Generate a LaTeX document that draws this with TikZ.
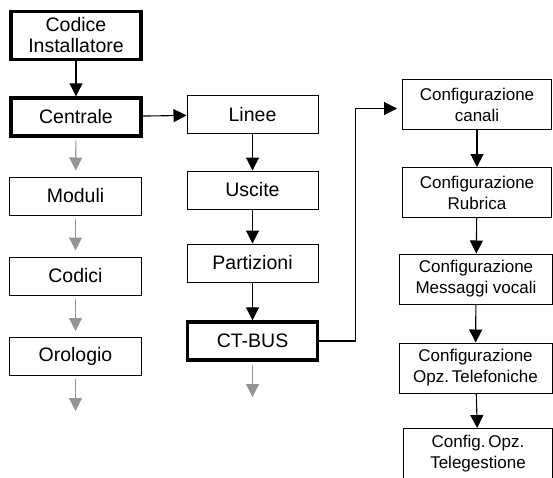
\documentclass[tikz,border=0pt]{standalone}
\usepackage{fontspec}
\setmainfont{Liberation Sans}
\usepackage{tikz}
\usetikzlibrary{arrows.meta}
\tikzset{bx/.style={draw,line width=1pt,minimum width=132pt,minimum height=38pt,align=center,inner sep=1pt,font=\fontsize{19.5}{21}\selectfont}}
\tikzset{tbx/.style={bx,line width=3.4pt,minimum width=130pt}}
\tikzset{cbx/.style={bx,minimum width=149pt,minimum height=50pt,font=\fontsize{17}{21}\selectfont}}
\tikzset{ar/.style={-{Triangle[width=13pt,length=13pt]},line width=1.1pt}}
\tikzset{ga/.style={ar,draw=black!42,shorten <=3pt,shorten >=6pt}}

\begin{document}
\begin{tikzpicture}[x=1pt,y=-1pt]
          \useasboundingbox (0,0) rectangle (553,477);
          % colonna centrale
          \node[tbx,minimum height=48pt] (codice) at (76,35.5) {Codice\\Installatore};
          \node[tbx] (centrale) at (76,117) {Centrale};
          \draw[ar] (codice) -- (centrale);
          \node[bx] (moduli) at (75.5,196) {Moduli};
          \node[bx] (codici) at (75.5,276) {Codici};
          \node[bx] (orologio) at (75.5,356.5) {Orologio};
          \coordinate (orofine) at (75.5,417);
          \draw[ga] (centrale) -- (moduli);
          \draw[ga] (moduli) -- (codici);
          \draw[ga] (codici) -- (orologio);
          \draw[ga] (orologio) -- (orofine);
          % linee .. ct-bus
          \node[bx,minimum width=131pt] (linee) at (252.5,114.5) {Linee};
          \node[bx,minimum width=131pt] (uscite) at (252.5,190) {Uscite};
          \node[bx,minimum width=131pt] (partizioni) at (252.5,263) {Partizioni};
          \node[tbx] (ctbus) at (252.5,341) {CT-BUS};
          \coordinate (busfine) at (252.5,403);
          \draw[ar] (centrale) -- (linee);
          \draw[ar] (linee) -- (uscite);
          \draw[ar] (uscite) -- (partizioni);
          \draw[ar] (partizioni) -- (ctbus);
          \draw[ga] (ctbus) -- (busfine);
          % configurazioni
          \node[cbx] (canali) at (477,104.5) {Configurazione\\canali};
          \node[cbx] (rubrica) at (477,192.5) {Configurazione\\Rubrica};
          \node[cbx,minimum width=153pt] (messaggi) at (476,279) {Configurazione\\Messaggi vocali};
          \node[cbx,minimum width=153pt] (telefoniche) at (475.5,368) {Configurazione\\Opz.\,Telefoniche};
          \node[cbx] (telegestione) at (478,453.5) {Config.\,Opz.\\Telegestione};
          \draw[line width=1.1pt,-{Triangle[width=13pt,length=13pt]},shorten >=5pt]
            (ctbus.east) -- ++(36,0) |- ([yshift=-4pt]canali.west);
          \draw[ar] (canali) -- (rubrica);
          \draw[ar] (rubrica) -- (messaggi);
          \draw[ar] (messaggi) -- (telefoniche);
          \draw[ar] (telefoniche) -- (telegestione);
        \end{tikzpicture}
\end{document}
